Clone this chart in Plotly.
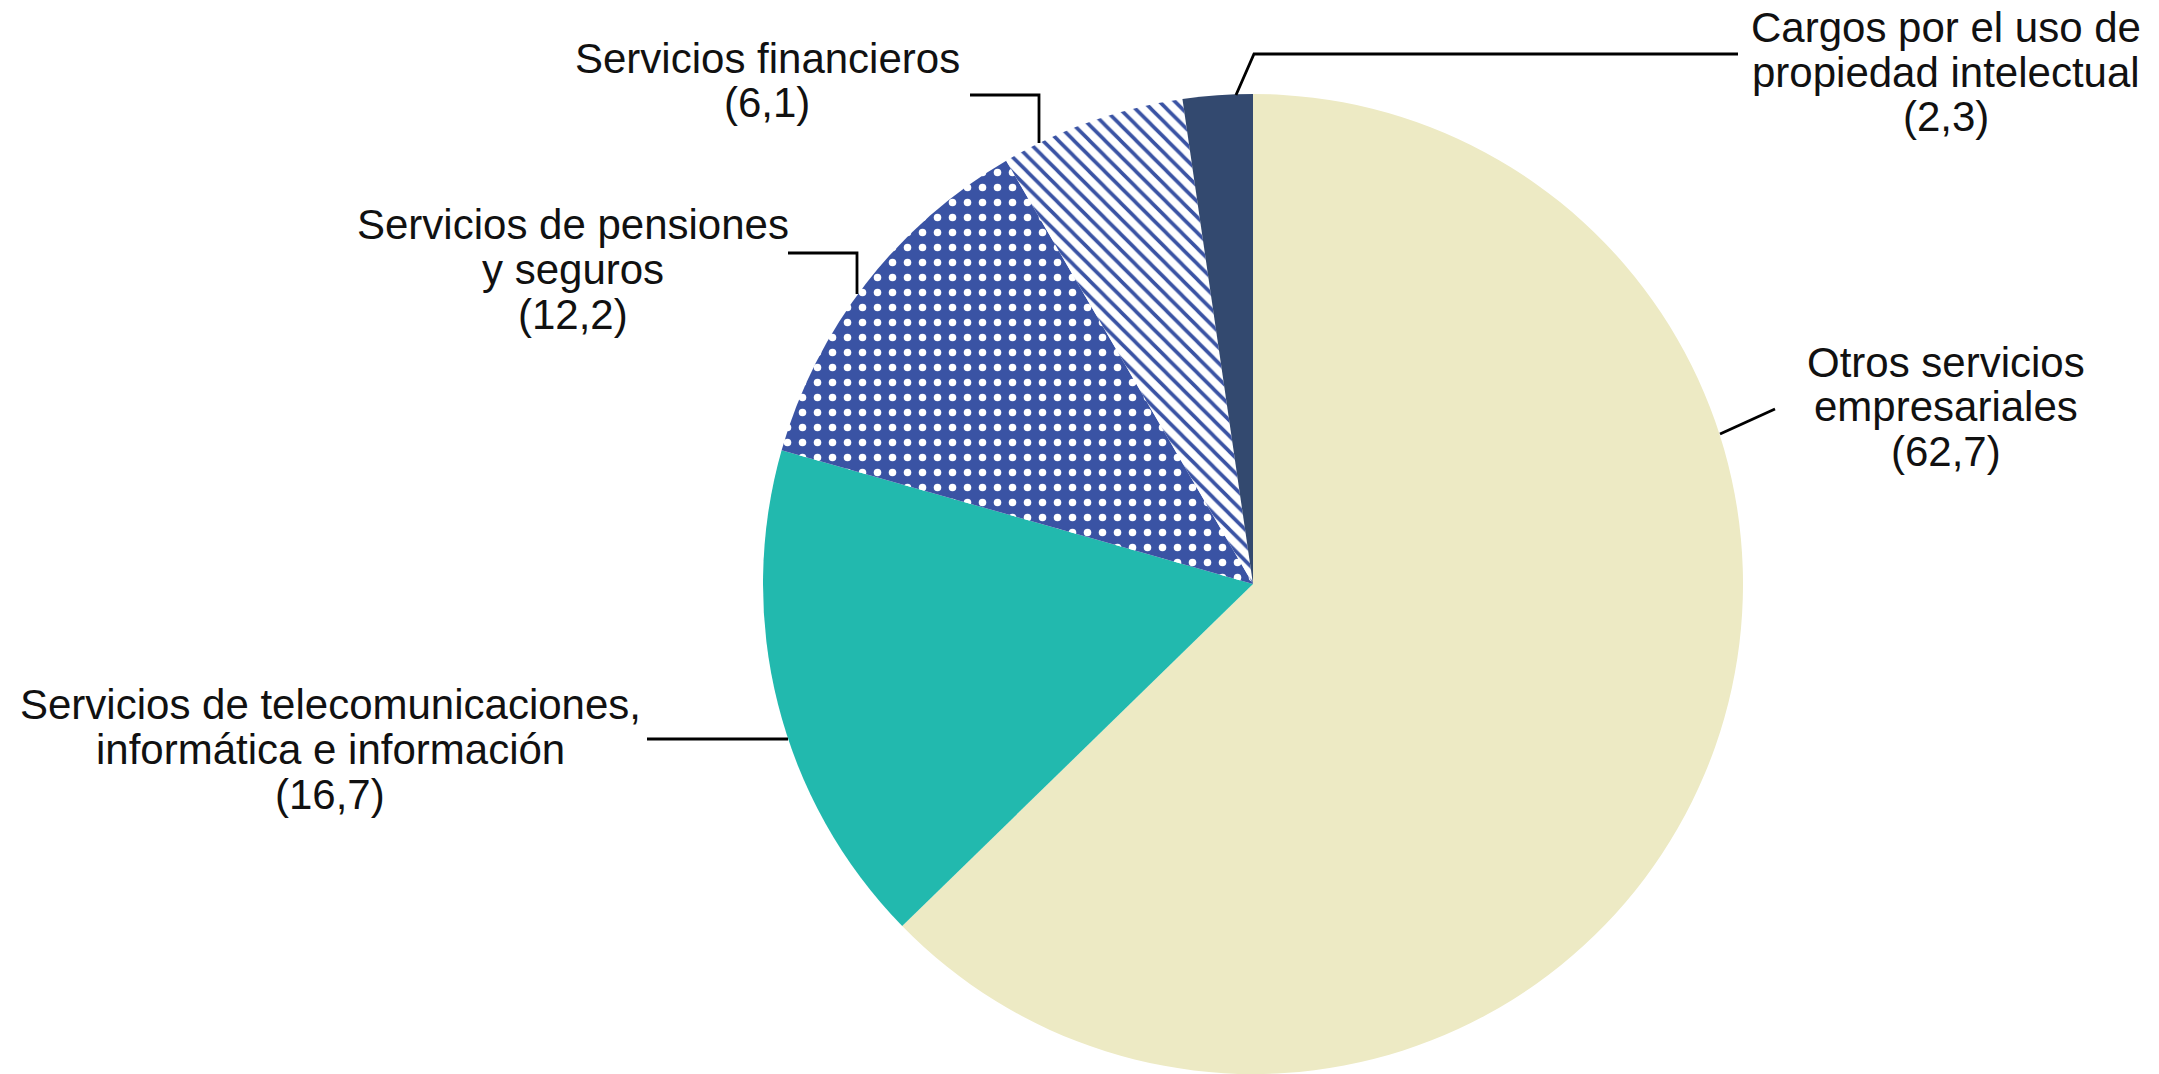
import plotly.graph_objects as go

# ---- data ----
categories = [
    "Otros servicios empresariales",
    "Servicios de telecomunicaciones, informática e información",
    "Servicios de pensiones y seguros",
    "Servicios financieros",
    "Cargos por el uso de propiedad intelectual",
]
values = [62.7, 16.7, 12.2, 6.1, 2.3]
label_lines = [
    ["Otros servicios", "empresariales"],
    ["Servicios de telecomunicaciones,", "informática e información"],
    ["Servicios de pensiones", "y seguros"],
    ["Servicios financieros"],
    ["Cargos por el uso de", "propiedad intelectual"],
]

# ---- styles ----
W, H = 2159, 1074
BEIGE = "#EDEAC4"
TEAL = "#22B9AE"
BLUE = "#3A53A4"
NAVY = "#33496F"
slice_colors = [BEIGE, TEAL, BLUE, "#FFFFFF", NAVY]
pat_shapes = ["", "", ".", "\\", ""]
pat_fg = [BEIGE, TEAL, "#FFFFFF", BLUE, NAVY]
pat_size = [10, 10, 15, 11, 10]
pat_sol = [0.3, 0.3, 0.2, 0.33, 0.3]

# pie placement (pixels)
CX, R = 1253, 490

fig = go.Figure(
    go.Pie(
        labels=categories,
        values=values,
        sort=False,
        direction="clockwise",
        rotation=0,
        textinfo="none",
        hoverinfo="label+value",
        showlegend=False,
        marker=dict(
            colors=slice_colors,
            line=dict(width=0),
            pattern=dict(
                shape=pat_shapes,
                fgcolor=pat_fg,
                size=pat_size,
                solidity=pat_sol,
                fgopacity=1,
                fillmode="overlay",
            ),
        ),
        domain=dict(x=[(CX - R) / W, (CX + R) / W], y=[0, 2 * R / H]),
    )
)

def px(x):
    return x / W

def py(y):
    return 1 - y / H

# label placement (pixels): centre x, first line y
label_pos = [
    (1946, 362),
    (330, 705),
    (573, 225),
    (767, 58),
    (1946, 28),
]
STEP = 44.5
FONT = dict(family="Liberation Sans, Arial, sans-serif", size=42, color="#111111")

annotations = []
for lines, val, (lx, ly) in zip(label_lines, values, label_pos):
    all_lines = lines + ["(" + f"{val:.1f}".replace(".", ",") + ")"]
    for i, t in enumerate(all_lines):
        annotations.append(
            dict(
                x=px(lx), y=py(ly + i * STEP), xref="paper", yref="paper",
                text=t, showarrow=False, xanchor="center", yanchor="middle",
                font=FONT,
            )
        )

# leader lines (pixels)
leaders = [
    [(1720, 434), (1775, 409)],
    [(647, 739), (788, 739)],
    [(788, 253), (857, 253), (857, 294)],
    [(970, 95), (1039, 95), (1039, 143)],
    [(1236, 95), (1254, 54), (1738, 54)],
]
shapes = []
for pts in leaders:
    d = "M " + " L ".join(f"{px(x)},{py(y)}" for x, y in pts)
    shapes.append(
        dict(type="path", path=d, xref="paper", yref="paper",
             line=dict(color="#000000", width=2.8))
    )

fig.update_layout(
    width=W, height=H,
    margin=dict(l=0, r=0, t=0, b=0),
    paper_bgcolor="white",
    plot_bgcolor="white",
    annotations=annotations,
    shapes=shapes,
)

fig.write_html(
    "out.html",
    config={"displayModeBar": False},
    post_script="document.body.style.margin='0';document.body.style.overflow='hidden';",
)
